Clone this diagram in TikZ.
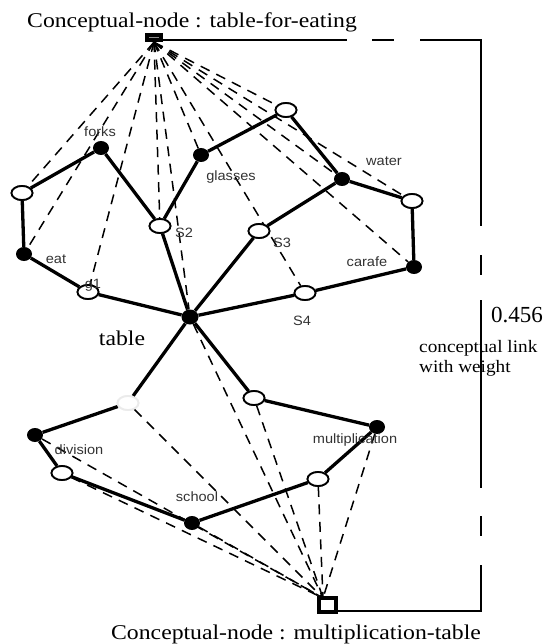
\documentclass[tikz,border=0pt]{standalone}
\usepackage{fontspec}
\setmainfont{Liberation Serif}
\newfontfamily\labsans{Liberation Sans}
\usetikzlibrary{shapes.geometric}
\tikzset{
  hol/.style={ellipse,draw,line width=1.8pt,fill=white,minimum width=21pt,minimum height=14pt,inner sep=0pt},
  ful/.style={ellipse,fill=black,minimum width=16pt,minimum height=14pt,inner sep=0pt},
  edgeline/.style={line width=3.3pt},
  dsh/.style={line width=1.5pt,dash pattern=on 10pt off 7.5pt},
  lab/.style={font=\labsans\fontsize{13.5}{15}\selectfont,text=black!80,xscale=1.08,inner sep=0pt},
  big/.style={font=\fontsize{21}{24}\selectfont,xscale=1.13,inner sep=0pt},
}
\begin{document}
\begin{tikzpicture}[x=1pt,y=-1pt]
\useasboundingbox[fill=white] (0,0) rectangle (544,644);

% conceptual nodes
\node[fill=black,minimum width=18pt,minimum height=9pt,inner sep=0pt] (T) at (154,37.5) {};
\draw[black!45,line width=0.7pt] (T.west) ++(4,0) -- ++(10,0);
\node[draw,line width=3.2pt,fill=white,minimum width=17pt,minimum height=14pt,inner sep=0pt] (B) at (327.5,605) {};
\coordinate (Bin) at (323,598);

% network nodes
\node[ful] (forks) at (101,148) {};
\node[hol] (L1) at (22,193) {};
\node[ful] (eat) at (24,254) {};
\node[hol] (g1) at (88,292) {};
\node[hol] (S2) at (160,226) {};
\node[ful] (glasses) at (201,155) {};
\node[hol] (E286) at (286,110) {};
\node[ful] (water) at (342,179) {};
\node[hol] (E411) at (412,201) {};
\node[ful] (carafe) at (414,267) {};
\node[hol] (S3) at (259,231) {};
\node[hol] (S4) at (305,293) {};
\node[ful,minimum width=17pt,minimum height=15pt] (H) at (190,317) {};
\node[hol,draw=black!8] (faint) at (128,403) {};
\node[ful] (division) at (35,435) {};
\node[hol] (e62) at (62,473) {};
\node[ful] (school) at (192,523) {};
\node[hol] (e318) at (318,479) {};
\node[ful] (mult) at (377,427) {};
\node[hol] (e253) at (254,398) {};

% dashed links to top conceptual node
\foreach \n in {L1,eat,g1,S2,H,glasses,S4,E286,water,E411,carafe}
  \draw[dsh] (T.south) -- (\n);
% dashed links to bottom conceptual node
\foreach \n in {division,e62,school,faint,H,e253,e318,mult}
  \draw[dsh] (\n) -- (Bin);

% solid edges
\draw[edgeline] (forks) -- (L1);
\draw[edgeline] (L1) -- (eat);
\draw[edgeline] (eat) -- (g1);
\draw[edgeline] (g1) -- (H);
\draw[edgeline] (forks) -- (S2);
\draw[edgeline] (S2) -- (H);
\draw[edgeline] (glasses) -- (S2);
\draw[edgeline] (glasses) -- (E286);
\draw[edgeline] (E286) -- (water);
\draw[edgeline] (water) -- (S3);
\draw[edgeline] (S3) -- (H);
\draw[edgeline] (water) -- (E411);
\draw[edgeline] (E411) -- (carafe);
\draw[edgeline] (carafe) -- (S4);
\draw[edgeline] (S4) -- (H);
\draw[edgeline] (H) -- (faint);
\draw[edgeline] (faint) -- (division);
\draw[edgeline] (division) -- (e62);
\draw[edgeline] (e62) -- (school);
\draw[edgeline] (school) -- (e318);
\draw[edgeline] (e318) -- (mult);
\draw[edgeline] (mult) -- (e253);
\draw[edgeline] (e253) -- (H);

% redraw nodes on top
\foreach \n/\x/\y in {L1/22/193,g1/88/292,S2/160/226,E286/286/110,E411/412/201,S3/259/231,S4/305/293,e62/62/473,e318/318/479,e253/254/398}
  \node[hol] at (\x,\y) {};
\node[hol,draw=black!8] at (128,403) {};
\node[draw,line width=3.2pt,fill=white,minimum width=17pt,minimum height=14pt,inner sep=0pt] at (327.5,605) {};

% weighted conceptual link
\coordinate (c0) at (163,40);
\coordinate (c1) at (481,40);
\coordinate (c2) at (481,611);
\coordinate (c3) at (337,611);
\draw[line width=2.2pt,dash pattern=on 184pt off 25pt on 22pt off 26pt on 247pt off 29pt on 20pt off 25pt on 188pt off 28pt on 20pt off 29pt on 400pt]
  (c0) -- (c1) -- (c2) -- (c3);

% labels
\node[lab] at (100,132) {forks};
\node[lab] at (231,177) {glasses};
\node[lab] at (184,233) {S2};
\node[lab] at (56,259) {eat};
\node[lab] at (93,285) {g1};
\node[lab] at (384,161) {water};
\node[lab] at (282,243) {S3};
\node[lab] at (367,262) {carafe};
\node[lab] at (302,321) {S4};
\node[lab] at (79,450) {division};
\node[lab] at (197,497) {school};
\node[lab] at (355,440) {multiplication};

\node[big,anchor=base] (ttop) at (192,28) {Conceptual-node : table-for-eating};
\node[big,anchor=base] (tbot) at (296,639) {Conceptual-node : multiplication-table};
\node[big,anchor=base] (ttable) at (122,345) {table};
\node[font=\fontsize{23}{26}\selectfont,anchor=base,inner sep=0pt] (w) at (517,322) {0.456};
\node[font=\fontsize{17.5}{20}\selectfont,xscale=1.1,anchor=base west,inner sep=0pt] (cl1) at (419,352) {conceptual link};
\node[font=\fontsize{17.5}{20}\selectfont,xscale=1.1,anchor=base west,inner sep=0pt] (cl2) at (419,372) {with weight};
\end{tikzpicture}
\end{document}
